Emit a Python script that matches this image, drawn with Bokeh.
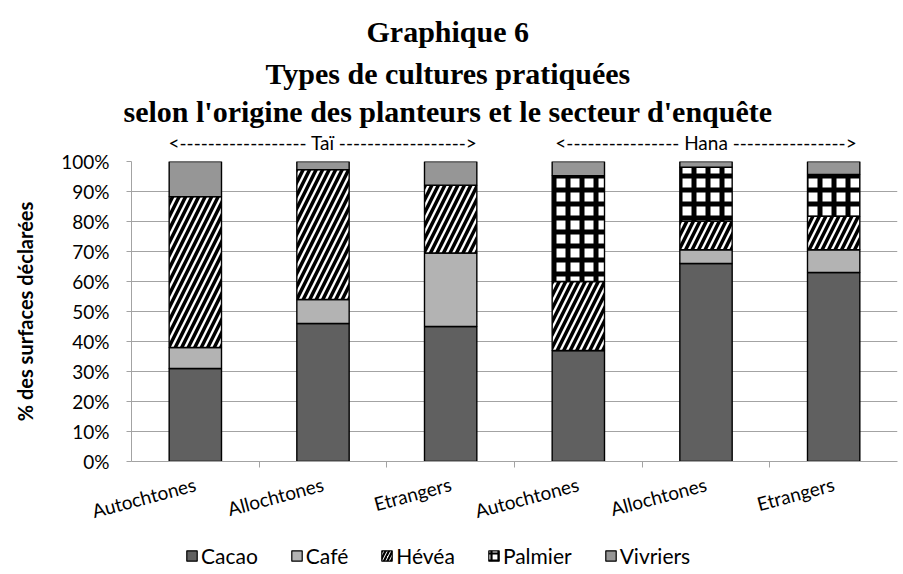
import math
from bokeh.plotting import figure
from bokeh.layouts import column
from bokeh.models import (Range1d, FactorRange, CategoricalAxis, FixedTicker, Legend,
                          LegendItem, Title, PrintfTickFormatter)
from bokeh.embed import file_html
from bokeh.resources import INLINE

# ---------------- data ----------------
secteurs = ["Taï", "Taï", "Taï", "Hana", "Hana", "Hana"]
origines = ["Autochtones", "Allochtones", "Etrangers",
            "Autochtones", "Allochtones", "Etrangers"]
categories = list(zip(secteurs, origines))

series = ["Cacao", "Café", "Hévéa", "Palmier", "Vivriers"]
cacao = [31, 46, 45, 37, 66, 63]
cafe = [7, 8, 24.5, 0, 4.6, 7.6]
hevea = [50.3, 43.3, 22.6, 23, 9.5, 11.1]
palmier = [0, 0, 0, 35.3, 18, 14]
vivriers = [11.7, 2.7, 7.9, 4.7, 1.9, 4.3]

y_ticks = list(range(0, 101, 10))
titre = ["Graphique 6", "Types de cultures pratiquées",
         "selon l'origine des planteurs et le secteur d'enquête"]
secteur_labels = ["<------------------ Taï ------------------>",
                  "<---------------- Hana ---------------->"]

SANS = "Lato"
GRID = "#a3a3a3"
fills = ["#606060", "#b3b3b3", "white", "white", "#969696"]
hatches = [" ", " ", "/", "+", " "]
hweights = [1, 1, 3.5, 5, 1]
hscales = [8, 8, 13, 14, 8]
leg_hweights = [1, 1, 2.2, 2.2, 1]
leg_hscales = [8, 8, 7, 7, 8]

x_range = FactorRange(*categories, factor_padding=0, group_padding=0,
                      subgroup_padding=0)
p = figure(x_range=x_range, y_range=Range1d(0, 100), width=899, height=541,
           output_backend="svg", toolbar_location=None,
           min_border_left=131, min_border_right=2, min_border_top=161,
           min_border_bottom=80)
p.outline_line_color = None
p.background_fill_color = "white"
p.border_fill_color = "white"

data = dict(cat=categories, Cacao=cacao, Café=cafe, Hévéa=hevea,
            Palmier=palmier, Vivriers=vivriers)
renderers = p.vbar_stack(
    series, x="cat", width=0.41, source=data,
    fill_color=fills, line_color="black", line_width=1.4,
    hatch_pattern=hatches, hatch_color="black",
    hatch_weight=hweights, hatch_scale=hscales,
)

# grid
p.xgrid.grid_line_color = None
p.ygrid.grid_line_color = GRID
p.ygrid.grid_line_width = 1.2
p.ygrid.ticker = FixedTicker(ticks=y_ticks)

# y axis
ya = p.yaxis[0]
ya.ticker = FixedTicker(ticks=y_ticks)
ya.formatter = PrintfTickFormatter(format="%d%%")
ya.major_label_text_font = SANS
ya.major_label_text_font_size = "19px"
ya.major_label_text_color = "black"
ya.axis_line_color = GRID
ya.major_tick_line_color = GRID
ya.major_tick_in = 0
ya.major_tick_out = 5
ya.minor_tick_line_color = None
ya.major_label_standoff = 17
ya.axis_label = "% des surfaces déclarées"
ya.axis_label_text_font = SANS
ya.axis_label_text_font_style = "bold"
ya.axis_label_text_font_size = "20px"
ya.axis_label_text_color = "black"
ya.axis_label_standoff = 21

# category axis (labels only)
xa = p.xaxis[0]
xa.major_label_orientation = math.radians(15)
xa.major_label_text_font = SANS
xa.major_label_text_font_size = "19px"
xa.major_label_text_color = "black"
xa.axis_line_color = None
xa.major_tick_line_color = None
xa.major_tick_in = 0
xa.major_tick_out = 0
xa.major_label_standoff = 16
xa.group_text_color = None
xa.group_text_font_size = "1px"
xa.separator_line_color = None

# boundary ticks axis: factors whose centres fall on the category borders
bornes = [f"b{i}" for i in range(len(categories) + 1)]
p.extra_x_ranges = {
    "bornes": FactorRange(factors=bornes, range_padding=-0.5,
                          range_padding_units="absolute"),
    "secteur": FactorRange(factors=secteur_labels),
}
bx = CategoricalAxis(x_range_name="bornes",
                     major_label_text_color=None,
                     major_label_text_font_size="1px", major_label_standoff=0,
                     major_tick_in=0, major_tick_out=6,
                     axis_line_color=GRID, major_tick_line_color=GRID)
p.below = [bx, xa]

# sector arrows above the frame
sx = CategoricalAxis(x_range_name="secteur",
                     major_label_text_font=SANS, major_label_text_font_size="19px",
                     major_label_text_color="black", major_label_standoff=8,
                     major_tick_in=0, major_tick_out=0,
                     axis_line_color=None, major_tick_line_color=None)

# titles (first in list is nearest the frame)
titles = []
for t, so, off in zip(reversed(titre), [0, 6, 8], [-8, 134, 235]):
    titles.append(Title(text=t, align="left", offset=off, standoff=so,
                        text_font="Liberation Serif", text_font_style="bold",
                        text_font_size="30px", text_color="black"))
p.above = [sx] + titles

# legend in its own strip below the chart (proxy glyphs have no drawable value)
lf = figure(width=899, height=29, output_backend="svg", toolbar_location=None,
            x_range=Range1d(0, 1), y_range=Range1d(0, 1), min_border=0)
lf.axis.visible = False
lf.grid.visible = False
lf.outline_line_color = None
proxies = []
for f, h, hw, hs in zip(fills, hatches, leg_hweights, leg_hscales):
    proxies.append(lf.vbar(x=[math.nan], top=[math.nan], width=0.5, fill_color=f,
                           line_color="black", line_width=1.2,
                           hatch_pattern=h, hatch_color="black",
                           hatch_weight=hw, hatch_scale=hs))
items = [LegendItem(label=s, renderers=[r]) for s, r in zip(series, proxies)]
legend = Legend(items=items, orientation="horizontal", location=(54, 2),
                label_text_font=SANS, label_text_font_size="21px",
                label_text_color="black",
                glyph_width=13, glyph_height=13, spacing=32, label_standoff=3,
                padding=0, margin=0, border_line_color=None,
                background_fill_alpha=0)
lf.add_layout(legend)

open("out.html", "w").write(file_html(column(p, lf, spacing=0), INLINE))
